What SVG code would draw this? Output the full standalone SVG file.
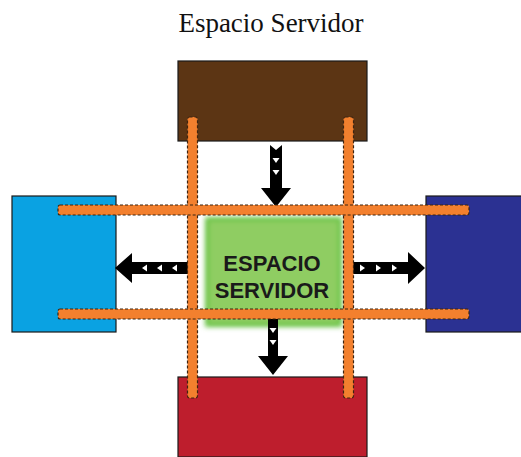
<svg xmlns="http://www.w3.org/2000/svg" width="521" height="457" viewBox="0 0 521 457">
<defs>
<style>
.box{stroke:#1a1a1a;stroke-width:1.2}
.bar{fill:#f3802e;stroke:#3d2410;stroke-width:1.2;stroke-dasharray:3 2}
.arrow{fill:#000}
.chev{fill:#fff}
.title{font-family:"Liberation Serif","Times New Roman",serif;font-size:27px;fill:#111}
.lbl{font-family:"Liberation Sans",Arial,sans-serif;font-weight:bold;font-size:22px;fill:#1a1a1a}
</style>
<filter id="glow" x="-20%" y="-20%" width="140%" height="140%">
<feGaussianBlur stdDeviation="2.5"/>
</filter>
</defs>
<rect width="521" height="457" fill="#fff"/>
<text class="title" x="271" y="32" text-anchor="middle">Espacio Servidor</text>
<g id="top-node"><rect class="box" x="178" y="61" width="189" height="80" fill="#5c3514"/></g>
<g id="bottom-node"><rect class="box" x="178" y="377" width="189" height="80" fill="#be1e2d"/></g>
<g id="left-node"><rect class="box" x="12" y="196" width="104" height="136" fill="#0aa2e2"/></g>
<g id="right-node"><rect class="box" x="426" y="196" width="96" height="136" fill="#2b3192"/></g>
<g id="center-node">
<rect x="205" y="217" width="137" height="110" fill="#6cc44a" filter="url(#glow)"/>
<rect x="209" y="221" width="129" height="102" fill="#8fcd62" filter="url(#glow)"/>
<text class="lbl" x="272" y="271" text-anchor="middle">ESPACIO</text>
<text class="lbl" x="272" y="298" text-anchor="middle">SERVIDOR</text>
</g>
<g id="connectors">
<path class="arrow" d="M270,145 L276,150 L282,145 L282,188 L291,188 L276,207 L261,188 L270,188 Z"/>
<path class="chev" d="M272.5,158 L279.5,158 L276,163 Z"/>
<path class="chev" d="M272.5,170 L279.5,170 L276,175 Z"/>
<path class="arrow" d="M268,316 L278,316 L278,356 L288,356 L273,375 L258,356 L268,356 Z"/>
<path class="chev" d="M269.5,328 L276.5,328 L273,333 Z"/>
<path class="chev" d="M269.5,340 L276.5,340 L273,345 Z"/>
<path class="arrow" d="M190,262 L132,262 L132,253 L115,268 L132,283 L132,274 L190,274 Z"/>
<path class="chev" d="M142,268 L147,264.5 L147,271.5 Z"/>
<path class="chev" d="M157,268 L162,264.5 L162,271.5 Z"/>
<path class="chev" d="M172,268 L177,264.5 L177,271.5 Z"/>
<path class="arrow" d="M351,262 L408,262 L408,252 L425,268 L408,284 L408,274 L351,274 Z"/>
<path class="chev" d="M365,268 L360,264.5 L360,271.5 Z"/>
<path class="chev" d="M381,268 L376,264.5 L376,271.5 Z"/>
<path class="chev" d="M397,268 L392,264.5 L392,271.5 Z"/>
<rect class="bar" x="187.5" y="117" width="10" height="281" rx="2"/>
<rect class="bar" x="343.5" y="117" width="10" height="281" rx="2"/>
<rect class="bar" x="58" y="205" width="411" height="10" rx="2"/>
<rect class="bar" x="58" y="309" width="411" height="10" rx="2"/>
</g>
</svg>
